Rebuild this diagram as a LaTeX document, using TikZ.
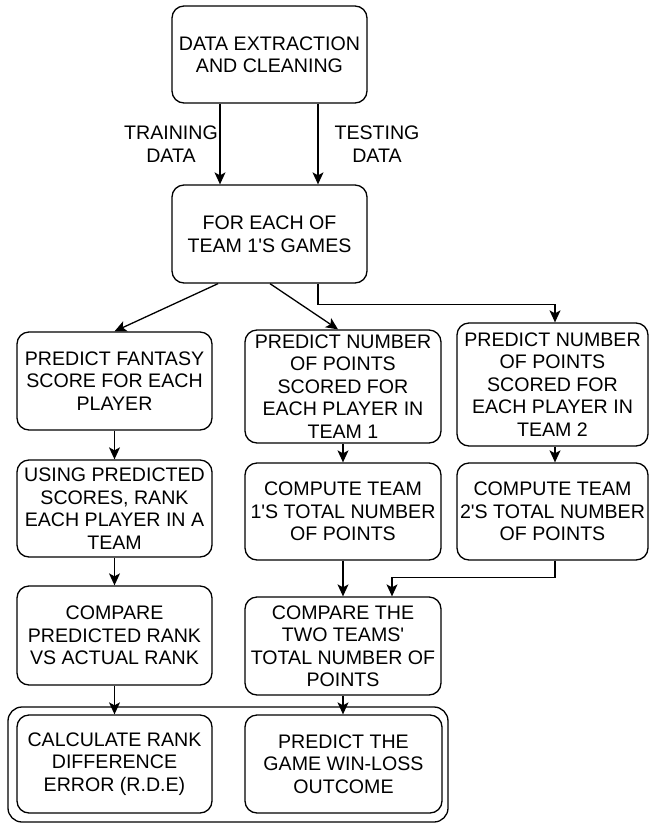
\documentclass[tikz,border=0pt]{standalone}
\usepackage{fontspec}
\setmainfont{Liberation Sans}
\usetikzlibrary{arrows.meta}
\begin{document}
\begin{tikzpicture}[x=1pt,y=-1pt,
  every node/.style={font=\fontsize{19.6}{22.5}\selectfont, align=center, inner sep=0pt},
  stepbox/.style={draw, line width=1.3pt, rounded corners=12pt, minimum width=195pt},
  frame/.style={draw, line width=1.3pt, rounded corners=14pt},
  lbl/.style={},
  conn/.style={draw, line width=1.3pt, -{Stealth[length=12pt,width=11pt,inset=3pt]}},
  line/.style={draw, line width=1.3pt}]
\useasboundingbox (0,0) rectangle (649,823);

\node[stepbox, minimum height=97pt] (A) at (269.5,54.5) {DATA EXTRACTION\\AND CLEANING};
\node[stepbox, minimum height=98pt] (B) at (269.5,234) {FOR EACH OF\\TEAM 1\textquotesingle S GAMES};

\node[lbl] (ltrain) at (171,144) {TRAINING\\DATA};
\node[lbl] (ltest) at (377,144) {TESTING\\DATA};

\node[stepbox, minimum height=98pt] (P1) at (114.5,381) {PREDICT FANTASY\\SCORE FOR EACH\\PLAYER};
\node[stepbox, minimum width=196pt, minimum height=113pt] (P2) at (343,386.5) {PREDICT NUMBER\\OF POINTS\\SCORED FOR\\EACH PLAYER IN\\TEAM 1};
\node[stepbox, minimum width=191pt, minimum height=123pt] (P3) at (552.5,384.5) {PREDICT NUMBER\\OF POINTS\\SCORED FOR\\EACH PLAYER IN\\TEAM 2};

\node[stepbox, minimum height=97pt] (R1) at (114.5,508.5) {USING PREDICTED\\SCORES, RANK\\EACH PLAYER IN A\\TEAM};
\node[stepbox, minimum width=196pt, minimum height=97pt] (R2) at (343,511.5) {COMPUTE TEAM\\1\textquotesingle S TOTAL NUMBER\\OF POINTS};
\node[stepbox, minimum width=191pt, minimum height=97pt] (R3) at (552.5,511.5) {COMPUTE TEAM\\2\textquotesingle S TOTAL NUMBER\\OF POINTS};

\node[stepbox, minimum height=99pt] (S1) at (114.5,635.5) {COMPARE\\PREDICTED RANK\\VS ACTUAL RANK};
\node[stepbox, minimum width=196pt, minimum height=98pt] (S2) at (343,646) {COMPARE THE\\TWO TEAMS\textquotesingle\\TOTAL NUMBER OF\\POINTS};

\node[frame, minimum width=440pt, minimum height=115pt] (F) at (228,764.5) {};
\node[stepbox, minimum height=98pt] (T1) at (114.5,764) {CALCULATE RANK\\DIFFERENCE\\ERROR (R.D.E)};
\node[stepbox, minimum width=197pt, minimum height=98pt] (T2) at (343.5,764) {PREDICT THE\\GAME WIN-LOSS\\OUTCOME};

\path[conn] ([xshift=-49.5pt]A.south) -- ([xshift=-49.5pt]B.north);
\path[conn] ([xshift=48.5pt]A.south) -- ([xshift=48.5pt]B.north);

\path[conn] ([xshift=-51.5pt]B.south) -- (P1.north);
\path[conn] ([xshift=0.5pt]B.south) -- ([xshift=-5pt]P2.north);
\path[conn] ([xshift=48.5pt]B.south) -- ++(0,21) -| ([xshift=2.5pt]P3.north);

\path[conn] (P1) -- (R1);
\path[conn] (P2) -- (R2);
\path[conn] ([xshift=2.5pt]P3.south) -- ([xshift=2.5pt]R3.north);

\path[conn] (R1) -- (S1);
\path[conn] (R2) -- (S2);
\path[conn] ([xshift=2.5pt]R3.south) -- ++(0,17) -| ([xshift=49pt]S2.north);

\path[conn] (S1.south) -- (T1.north);
\path[conn] (S2.south) -- (T2.north -| S2.south);
\end{tikzpicture}
\end{document}
